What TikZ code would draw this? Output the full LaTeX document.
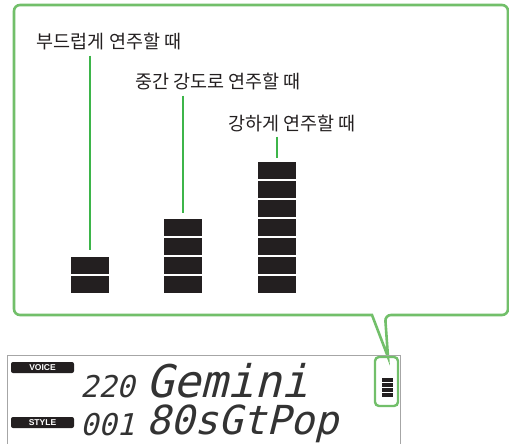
\documentclass[tikz,border=0pt]{standalone}
\usepackage{fontspec}
\usepackage{tikz}
\usetikzlibrary{positioning}
\newfontfamily\kfont{Noto Sans CJK KR}
\newfontfamily\lcdfont[FakeSlant=0.25]{DejaVu Sans Mono}
\newfontfamily\tagfont{Liberation Sans}
\definecolor{ink}{HTML}{231F20}
\definecolor{leadgreen}{HTML}{3DB54A}
\definecolor{calloutgreen}{HTML}{72BF6A}

\begin{document}
\begin{tikzpicture}[
  x=1pt, y=-1pt,
  lbl/.style={font=\kfont\fontsize{18.5}{20}\selectfont, text=ink, inner sep=0pt},
  seg/.style={fill=ink, minimum width=38pt, minimum height=17pt, inner sep=0pt},
  lead/.style={draw=leadgreen, line width=2.7pt},
  callout/.style={draw=calloutgreen, line width=2.6pt},
  badge/.style={fill=ink, rounded corners=2pt, minimum width=63pt, minimum height=11pt,
    inner sep=0pt, text=white, font=\tagfont\bfseries\fontsize{8.5}{8.5}\selectfont},
  lcd/.style={font=\lcdfont, text=black!80, anchor=base west, inner sep=0pt}
]
  \useasboundingbox (0,0) rectangle (509,444);

  % Speech bubble round the three cases
  \draw[callout, rounded corners=6pt] (372,315) -- (14,315) -- (14,5) -- (508,5)
    -- (508,315) -- (385,315) [sharp corners] -- (388,357) -- cycle;

  % Labels
  \node[lbl] (soft) at (109,41) {부드럽게 연주할 때};
  \node[lbl] (medium) at (218,81) {중간 강도로 연주할 때};
  \node[lbl] (strong) at (292,123) {강하게 연주할 때};

  % Level bars (one column per case)
  \foreach \col/\x/\n in {1/90/2, 2/183/4, 3/277/7} {
    \foreach \k in {1,...,\n}
      \node[seg] (c\col-\k) at (\x,{284.5-(\k-1)*19}) {};
  }

  % Leaders from label to top of column
  \draw[lead, shorten <=6pt, shorten >=7pt] (c1-2.north |- soft.south) -- (c1-2.north);
  \draw[lead, shorten <=6pt, shorten >=6pt] (c2-4.north |- medium.south) -- (c2-4.north);
  \draw[lead, shorten <=5pt, shorten >=4pt] (c3-7.north |- strong.south) -- (c3-7.north);

  % Display panel
  \draw[gray!70, line width=0.9pt] (7,444) -- (7,355) -- (400,355) -- (400,444);

  \node[badge] (voice) at (42.5,367.5) {VOICE};
  \node[badge] (style) at (42.5,422.5) {STYLE};

  \node[lcd, font=\lcdfont\fontsize{30}{30}\selectfont] (vnum) at (80,397) {220};
  \node[lcd, font=\lcdfont\fontsize{45}{45}\selectfont] (vname) at (146,397) {Gemini};
  \node[lcd, font=\lcdfont\fontsize{30}{30}\selectfont] (snum) at (80,435) {001};
  \node[lcd, font=\lcdfont\fontsize{40}{40}\selectfont] (sname) at (146,434) {80sGtPop};

  % Touch indicator, boxed
  \draw[callout, line width=2.4pt, rounded corners=4pt] (375,357) rectangle (398,406);
  \foreach \y in {378,383,388,393}
    \fill[ink] (382,\y) rectangle (393,\y+3.6);
\end{tikzpicture}
\end{document}
